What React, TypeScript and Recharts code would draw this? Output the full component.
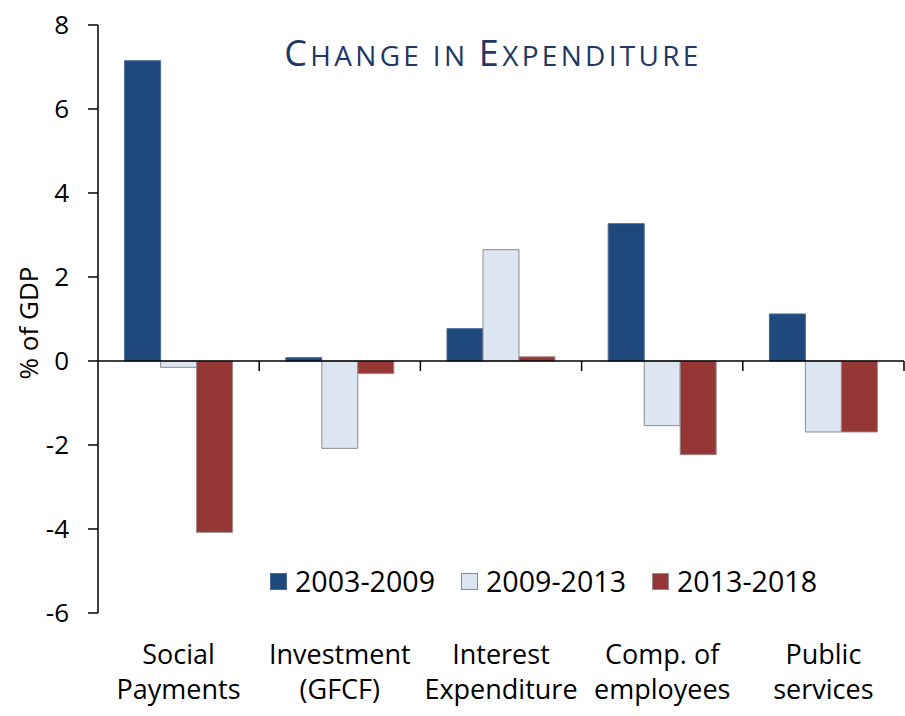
import { BarChart, Bar, XAxis, YAxis, ReferenceLine, Legend } from 'recharts';

const FONT = '"Open Sans", "Noto Sans", sans-serif';

const categories = ['Social Payments', 'Investment (GFCF)', 'Interest Expenditure', 'Comp. of employees', 'Public services'];
const tickLines = [
  ['Social', 'Payments'],
  ['Investment', '(GFCF)'],
  ['Interest', 'Expenditure'],
  ['Comp. of', 'employees'],
  ['Public', 'services'],
];
const p2003_2009 = [7.15, 0.08, 0.77, 3.27, 1.12];
const p2009_2013 = [-0.15, -2.08, 2.65, -1.54, -1.69];
const p2013_2018 = [-4.08, -0.3, 0.1, -2.23, -1.69];
const yTicks = [-6, -4, -2, 0, 2, 4, 6, 8];
const yMin = -6;
const yMax = 8;

const series = [
  { key: 'a', name: '2003-2009', fill: '#1F497D', stroke: '#4A6A96' },
  { key: 'b', name: '2009-2013', fill: '#DCE6F2', stroke: '#8C8C8C' },
  { key: 'c', name: '2013-2018', fill: '#953735', stroke: '#9A8A8A' },
];

const data = categories.map((name, i) => ({
  name,
  a: p2003_2009[i],
  b: p2009_2013[i],
  c: p2013_2018[i],
}));

// chart layout
const W = 905;
const H = 716;
const TOP = 25;
const RIGHT = 1;
const Y_AXIS_W = 98;
const X_AXIS_H = 103;
const plotW = W - Y_AXIS_W - RIGHT;
const plotH = H - TOP - X_AXIS_H;

function CategoryTick(props: any) {
  const { x, y, payload } = props;
  const lines = tickLines[categories.indexOf(payload.value)] || [payload.value];
  // category boundary tick hanging below the zero line
  const zeroY = y - ((0 - yMin) / (yMax - yMin)) * plotH;
  const bx = x + plotW / categories.length / 2;
  return (
    <g>
      <line x1={bx} x2={bx} y1={zeroY} y2={zeroY + 10} stroke="#000" strokeWidth={1.5} />
      <text x={x} y={y} textAnchor="middle" fontFamily={FONT} fontSize={27} fill="#000">
        <tspan x={x} dy={51}>{lines[0]}</tspan>
        <tspan x={x} dy={35}>{lines[1]}</tspan>
      </text>
    </g>
  );
}

const renderLegend = () => (
  <div style={{ display: 'flex', alignItems: 'center', fontFamily: FONT, fontSize: 28.6, lineHeight: '30px', color: '#000' }}>
    {series.map((s) => (
      <div key={s.key} style={{ display: 'flex', alignItems: 'center', marginRight: 26 }}>
        <span
          style={{
            display: 'inline-block',
            width: 17,
            height: 17,
            background: s.fill,
            border: `1px solid ${s.stroke}`,
            boxSizing: 'border-box',
            marginRight: 8,
          }}
        />
        <span>{s.name}</span>
      </div>
    ))}
  </div>
);

export default function App() {
  return (
    <div style={{ position: 'absolute', left: 0, top: 0, width: W, height: H, background: '#fff' }}>
      <BarChart
        width={W}
        height={H}
        data={data}
        margin={{ top: TOP, right: RIGHT, left: 0, bottom: 0 }}
        barCategoryGap="16.5%"
        barGap={0}
      >
        <XAxis
          dataKey="name"
          height={X_AXIS_H}
          axisLine={false}
          tickLine={false}
          tickSize={0}
          tickMargin={0}
          interval={0}
          tick={<CategoryTick />}
        />
        <YAxis
          width={Y_AXIS_W}
          domain={[yMin, yMax]}
          ticks={yTicks}
          interval={0}
          tickSize={10}
          tickMargin={19}
          axisLine={{ stroke: '#000', strokeWidth: 1.5 }}
          tickLine={{ stroke: '#000', strokeWidth: 1.5 }}
          tick={{ fill: '#000', fontSize: 26, fontFamily: FONT }}
        />
        {series.map((s) => (
          <Bar
            key={s.key}
            dataKey={s.key}
            name={s.name}
            fill={s.fill}
            stroke={s.stroke}
            strokeWidth={1}
            isAnimationActive={false}
          />
        ))}
        <ReferenceLine y={0} stroke="#000" strokeWidth={1.5} />
        <Legend
          layout="horizontal"
          verticalAlign="middle"
          align="center"
          content={renderLegend}
          wrapperStyle={{ left: 270, top: 566, width: 'auto' }}
        />
      </BarChart>
      <svg width={W} height={H} style={{ position: 'absolute', left: 0, top: 0, pointerEvents: 'none' }}>
        <text x={493} y={66} textAnchor="middle" fontFamily={FONT} fill="#1F3864" letterSpacing={3.3}>
          <tspan fontSize={36}>C</tspan>
          <tspan fontSize={28}>HANGE IN </tspan>
          <tspan fontSize={36}>E</tspan>
          <tspan fontSize={28}>XPENDITURE</tspan>
        </text>
        <text
          transform="translate(37.5, 323) rotate(-90)"
          textAnchor="middle"
          fontFamily={FONT}
          fontSize={26}
          fill="#000"
        >
          % of GDP
        </text>
      </svg>
    </div>
  );
}
